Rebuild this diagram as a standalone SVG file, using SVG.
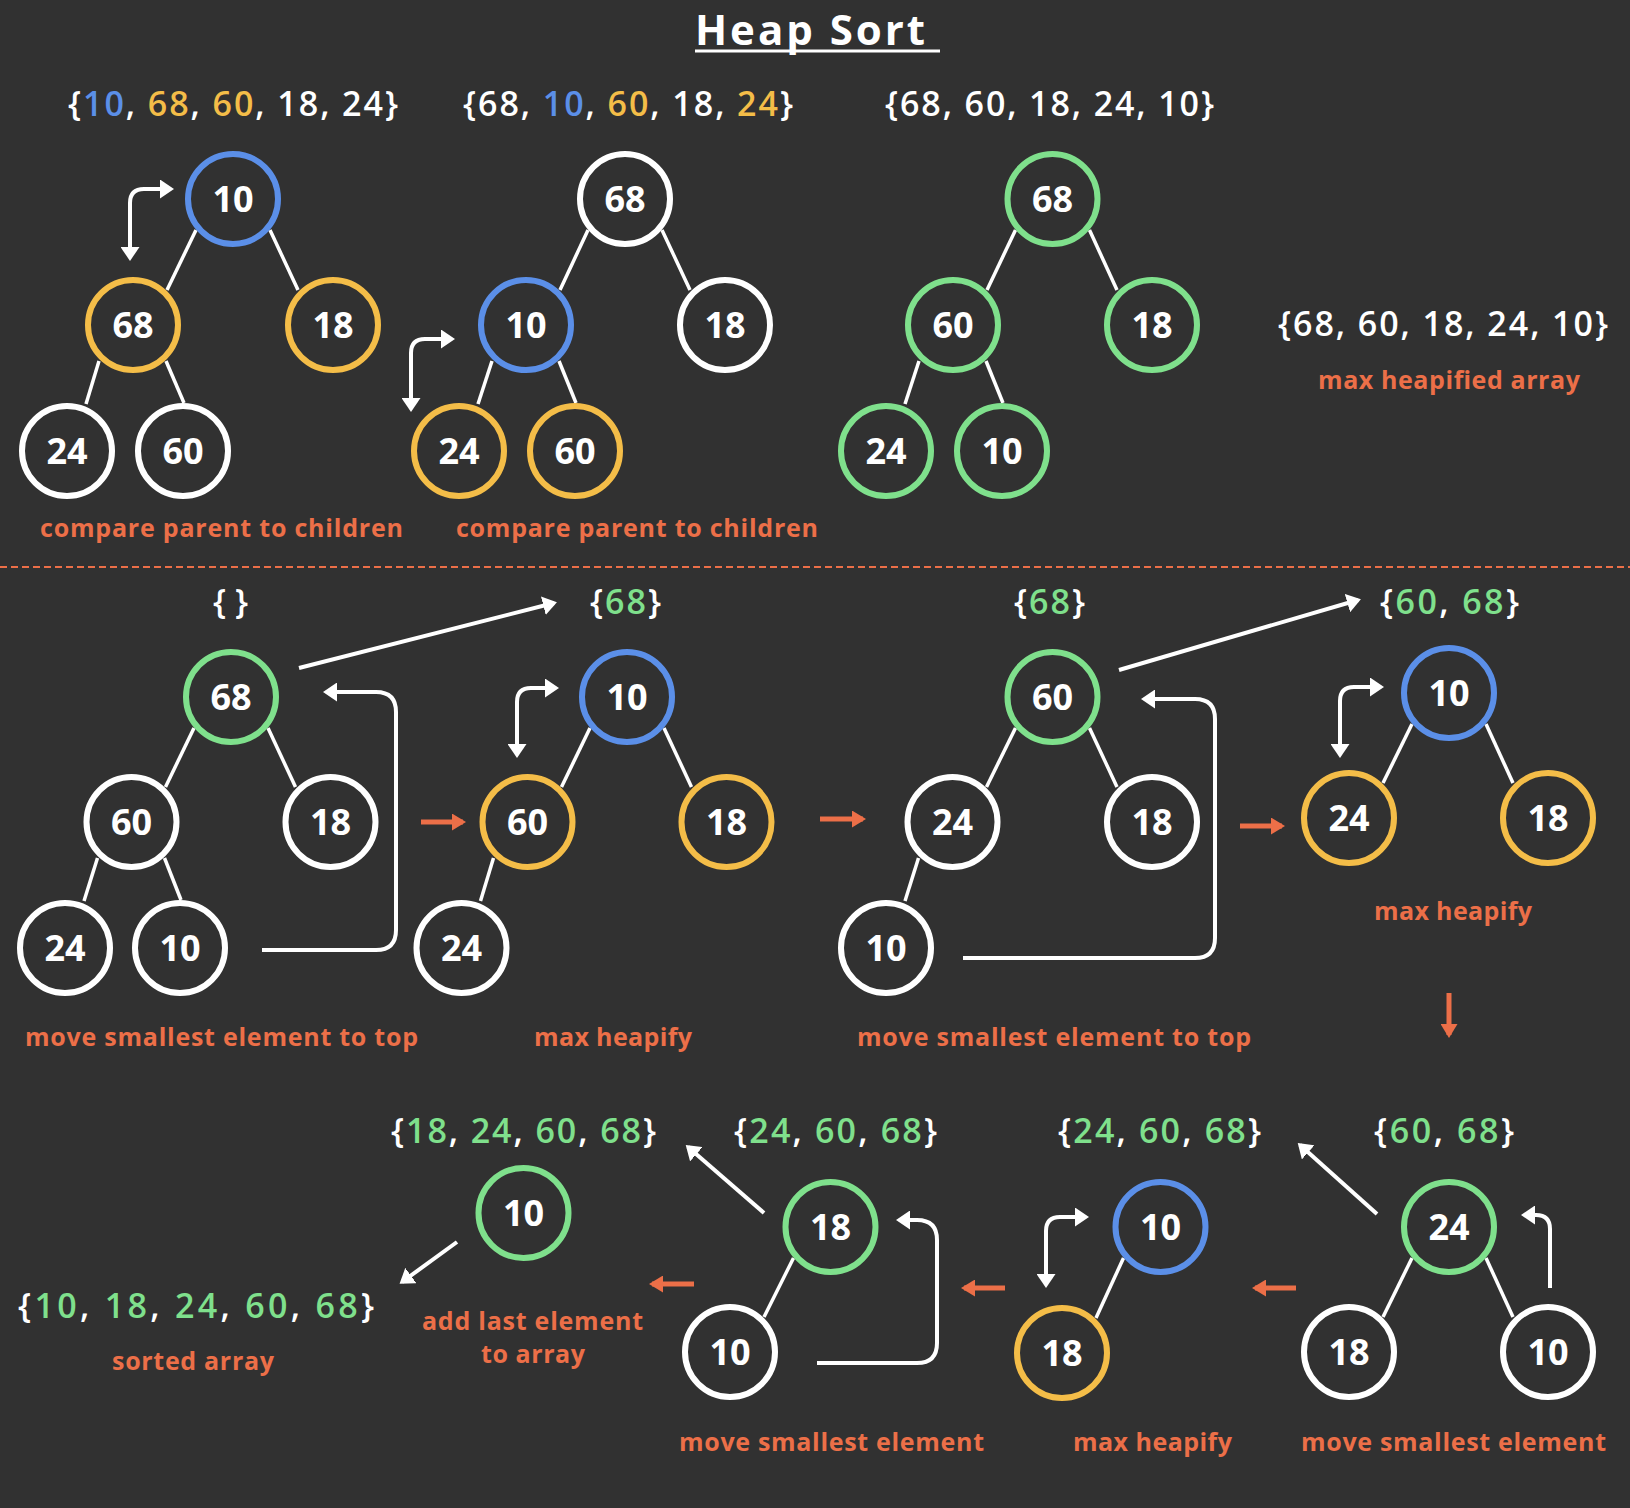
<svg xmlns="http://www.w3.org/2000/svg" width="1630" height="1508" viewBox="0 0 1630 1508">
<style>
text{font-family:"Open Sans","Noto Sans","Liberation Sans",sans-serif;}
.num{font-size:36px;font-weight:700;fill:#fff;text-anchor:middle;}
.arr{font-size:34px;font-weight:600;fill:#fff;}
.lbl{font-size:25px;font-weight:700;fill:#ec6f48;}
.ttl{font-size:42px;font-weight:700;fill:#fff;}
.bl{fill:#5b8fe8;}
.yl{fill:#f4bd48;}
.gr{fill:#7fe08c;}
circle{fill:#313131;stroke-width:6;}
.cw{stroke:#fff;}
.cb{stroke:#5b8fe8;}
.cy{stroke:#f4bd48;}
.cg{stroke:#7fe08c;}
.edge line{stroke:#fff;stroke-width:3.5;}
.wc{fill:none;stroke:#fff;stroke-width:4;marker-end:url(#wh);}
.sw{fill:none;stroke:#fff;stroke-width:4;marker-end:url(#wh);marker-start:url(#wh);}
.oa{fill:none;stroke:#ec6f48;stroke-width:5;marker-end:url(#oh);}
</style>
<defs>
<marker id="wh" viewBox="0 0 14 19" refX="11" refY="9.5" markerWidth="14" markerHeight="19" markerUnits="userSpaceOnUse" orient="auto-start-reverse">
<path d="M0,0 L14,9.5 L0,19 z" fill="#fff"/>
</marker>
<marker id="oh" viewBox="0 0 14 17" refX="11" refY="8.5" markerWidth="14" markerHeight="17" markerUnits="userSpaceOnUse" orient="auto">
<path d="M0,0 L14,8.5 L0,17 z" fill="#ec6f48"/>
</marker>
</defs>
<rect width="1630" height="1508" fill="#313131"/>

<g id="title">
<text class="ttl" x="695" y="45" textLength="230" lengthAdjust="spacing">Heap Sort</text>
<line x1="695" y1="51" x2="940" y2="51" stroke="#fff" stroke-width="3"/>
</g>

<g id="arrays">
<text class="arr" x="68" y="116" textLength="330" lengthAdjust="spacing">{<tspan class="bl">10</tspan>, <tspan class="yl">68</tspan>, <tspan class="yl">60</tspan>, 18, 24}</text>
<text class="arr" x="463" y="116" textLength="330" lengthAdjust="spacing">{68, <tspan class="bl">10</tspan>, <tspan class="yl">60</tspan>, 18, <tspan class="yl">24</tspan>}</text>
<text class="arr" x="885" y="116" textLength="329" lengthAdjust="spacing">{68, 60, 18, 24, 10}</text>
<text class="arr" x="1278" y="336" textLength="330" lengthAdjust="spacing">{68, 60, 18, 24, 10}</text>
<text class="arr" x="213" y="614" textLength="35" lengthAdjust="spacing">{ }</text>
<text class="arr" x="590" y="614" textLength="71" lengthAdjust="spacing">{<tspan class="gr">68</tspan>}</text>
<text class="arr" x="1014" y="614" textLength="71" lengthAdjust="spacing">{<tspan class="gr">68</tspan>}</text>
<text class="arr" x="1380" y="614" textLength="139" lengthAdjust="spacing">{<tspan class="gr">60</tspan>, <tspan class="gr">68</tspan>}</text>
<text class="arr" x="391" y="1143" textLength="265" lengthAdjust="spacing">{<tspan class="gr">18</tspan>, <tspan class="gr">24</tspan>, <tspan class="gr">60</tspan>, <tspan class="gr">68</tspan>}</text>
<text class="arr" x="734" y="1143" textLength="203" lengthAdjust="spacing">{<tspan class="gr">24</tspan>, <tspan class="gr">60</tspan>, <tspan class="gr">68</tspan>}</text>
<text class="arr" x="1058" y="1143" textLength="203" lengthAdjust="spacing">{<tspan class="gr">24</tspan>, <tspan class="gr">60</tspan>, <tspan class="gr">68</tspan>}</text>
<text class="arr" x="1374" y="1143" textLength="140" lengthAdjust="spacing">{<tspan class="gr">60</tspan>, <tspan class="gr">68</tspan>}</text>
<text class="arr" x="18" y="1318" textLength="356" lengthAdjust="spacing">{<tspan class="gr">10</tspan>, <tspan class="gr">18</tspan>, <tspan class="gr">24</tspan>, <tspan class="gr">60</tspan>, <tspan class="gr">68</tspan>}</text>
</g>

<g id="labels">
<text class="lbl" x="40" y="537" textLength="363" lengthAdjust="spacing">compare parent to children</text>
<text class="lbl" x="456" y="537" textLength="362" lengthAdjust="spacing">compare parent to children</text>
<text class="lbl" x="1318" y="389" textLength="262" lengthAdjust="spacing">max heapified array</text>
<text class="lbl" x="25" y="1046" textLength="393" lengthAdjust="spacing">move smallest element to top</text>
<text class="lbl" x="534" y="1046" textLength="158" lengthAdjust="spacing">max heapify</text>
<text class="lbl" x="857" y="1046" textLength="394" lengthAdjust="spacing">move smallest element to top</text>
<text class="lbl" x="1374" y="920" textLength="158" lengthAdjust="spacing">max heapify</text>
<text class="lbl" x="679" y="1451" textLength="305" lengthAdjust="spacing">move smallest element</text>
<text class="lbl" x="1073" y="1451" textLength="159" lengthAdjust="spacing">max heapify</text>
<text class="lbl" x="1301" y="1451" textLength="305" lengthAdjust="spacing">move smallest element</text>
<text class="lbl" x="422" y="1330" textLength="221" lengthAdjust="spacing">add last element</text>
<text class="lbl" x="481" y="1363" textLength="104" lengthAdjust="spacing">to array</text>
<text class="lbl" x="112" y="1370" textLength="162" lengthAdjust="spacing">sorted array</text>
</g>

<line id="divider" x1="0" y1="567" x2="1630" y2="567" stroke="#ec6f48" stroke-width="2" stroke-dasharray="7 4"/>

<g id="edges" class="edge">
<line x1="196" y1="230" x2="167" y2="290"/>
<line x1="270" y1="230" x2="298" y2="290"/>
<line x1="99" y1="361" x2="86" y2="404"/>
<line x1="166" y1="361" x2="184" y2="403"/>
<line x1="588" y1="230" x2="560" y2="290"/>
<line x1="662" y1="230" x2="690" y2="290"/>
<line x1="492" y1="361" x2="478" y2="404"/>
<line x1="559" y1="361" x2="576" y2="403"/>
<line x1="1015.5" y1="230" x2="987" y2="290"/>
<line x1="1089.5" y1="230" x2="1117" y2="290"/>
<line x1="919" y1="361" x2="905" y2="404"/>
<line x1="986" y1="361" x2="1003" y2="403"/>
<line x1="194" y1="728" x2="165.5" y2="787"/>
<line x1="268" y1="728" x2="295.5" y2="787"/>
<line x1="97.5" y1="858" x2="84" y2="901"/>
<line x1="164.5" y1="858" x2="181" y2="900"/>
<line x1="590" y1="728" x2="561.5" y2="787"/>
<line x1="664" y1="728" x2="691.5" y2="787"/>
<line x1="493.5" y1="858" x2="480.5" y2="901"/>
<line x1="1015.5" y1="728" x2="986.5" y2="787"/>
<line x1="1089.5" y1="728" x2="1117" y2="787"/>
<line x1="918.5" y1="858" x2="905" y2="901"/>
<line x1="1412" y1="724" x2="1383" y2="783"/>
<line x1="1486" y1="724" x2="1513" y2="783"/>
<line x1="1412" y1="1258" x2="1383" y2="1317"/>
<line x1="1486" y1="1258" x2="1513" y2="1317"/>
<line x1="1123.5" y1="1258" x2="1096" y2="1318"/>
<line x1="793.5" y1="1258" x2="764" y2="1317"/>
</g>

<g id="connectors">
<path class="sw" d="M130,258 V203 Q130,189 144,189 H171"/>
<path class="sw" d="M411,409 V353 Q411,339 425,339 H452"/>
<path class="sw" d="M517,755 V702 Q517,688 531,688 H556"/>
<path class="sw" d="M1340,755 V701 Q1340,687 1354,687 H1381"/>
<path class="sw" d="M1046,1285 V1231 Q1046,1217 1060,1217 H1086"/>
<path class="wc" d="M299,668 L554,603"/>
<path class="wc" d="M262,950 H376 Q396,950 396,930 V712 Q396,692 376,692 H326"/>
<path class="wc" d="M1119,670 L1358,600"/>
<path class="wc" d="M963,958 H1195 Q1215,958 1215,938 V719 Q1215,699 1195,699 H1144"/>
<path class="wc" d="M1377,1214 L1300,1145"/>
<path class="wc" d="M1550,1288 V1229 Q1550,1215 1536,1215 H1524"/>
<path class="wc" d="M817,1363 H917 Q937,1363 937,1343 V1240 Q937,1220 917,1220 H899"/>
<path class="wc" d="M764,1213 L688,1147"/>
<path class="wc" d="M457,1242 L402,1282"/>
<path class="oa" d="M421,822 H463"/>
<path class="oa" d="M820,819 H863"/>
<path class="oa" d="M1240,826 H1282"/>
<path class="oa" d="M1449,993 V1035"/>
<path class="oa" d="M1296,1288 H1255"/>
<path class="oa" d="M1005,1288 H964"/>
<path class="oa" d="M694,1284 H652"/>
</g>

<g id="tree1">
<g id="t1-10"><circle class="cb" cx="233" cy="199" r="45"/><text class="num" x="233" y="212">10</text></g>
<g id="t1-68"><circle class="cy" cx="133" cy="325" r="45"/><text class="num" x="133" y="338">68</text></g>
<g id="t1-18"><circle class="cy" cx="333" cy="325" r="45"/><text class="num" x="333" y="338">18</text></g>
<g id="t1-24"><circle class="cw" cx="67" cy="451" r="45"/><text class="num" x="67" y="464">24</text></g>
<g id="t1-60"><circle class="cw" cx="183" cy="451" r="45"/><text class="num" x="183" y="464">60</text></g>
</g>
<g id="tree2">
<g id="t2-68"><circle class="cw" cx="625" cy="199" r="45"/><text class="num" x="625" y="212">68</text></g>
<g id="t2-10"><circle class="cb" cx="526" cy="325" r="45"/><text class="num" x="526" y="338">10</text></g>
<g id="t2-18"><circle class="cw" cx="725" cy="325" r="45"/><text class="num" x="725" y="338">18</text></g>
<g id="t2-24"><circle class="cy" cx="459" cy="451" r="45"/><text class="num" x="459" y="464">24</text></g>
<g id="t2-60"><circle class="cy" cx="575" cy="451" r="45"/><text class="num" x="575" y="464">60</text></g>
</g>
<g id="tree3">
<g id="t3-68"><circle class="cg" cx="1052.5" cy="199" r="45"/><text class="num" x="1052.5" y="212">68</text></g>
<g id="t3-60"><circle class="cg" cx="953" cy="325" r="45"/><text class="num" x="953" y="338">60</text></g>
<g id="t3-18"><circle class="cg" cx="1152" cy="325" r="45"/><text class="num" x="1152" y="338">18</text></g>
<g id="t3-24"><circle class="cg" cx="886" cy="451" r="45"/><text class="num" x="886" y="464">24</text></g>
<g id="t3-10"><circle class="cg" cx="1002" cy="451" r="45"/><text class="num" x="1002" y="464">10</text></g>
</g>
<g id="treeA">
<g id="tA-68"><circle class="cg" cx="231" cy="697" r="45"/><text class="num" x="231" y="710">68</text></g>
<g id="tA-60"><circle class="cw" cx="131.5" cy="822" r="45"/><text class="num" x="131.5" y="835">60</text></g>
<g id="tA-18"><circle class="cw" cx="330.5" cy="822" r="45"/><text class="num" x="330.5" y="835">18</text></g>
<g id="tA-24"><circle class="cw" cx="65" cy="948" r="45"/><text class="num" x="65" y="961">24</text></g>
<g id="tA-10"><circle class="cw" cx="180" cy="948" r="45"/><text class="num" x="180" y="961">10</text></g>
</g>
<g id="treeB">
<g id="tB-10"><circle class="cb" cx="627" cy="697" r="45"/><text class="num" x="627" y="710">10</text></g>
<g id="tB-60"><circle class="cy" cx="527.5" cy="822" r="45"/><text class="num" x="527.5" y="835">60</text></g>
<g id="tB-18"><circle class="cy" cx="726.5" cy="822" r="45"/><text class="num" x="726.5" y="835">18</text></g>
<g id="tB-24"><circle class="cw" cx="461.5" cy="948" r="45"/><text class="num" x="461.5" y="961">24</text></g>
</g>
<g id="treeC">
<g id="tC-60"><circle class="cg" cx="1052.5" cy="697" r="45"/><text class="num" x="1052.5" y="710">60</text></g>
<g id="tC-24"><circle class="cw" cx="952.5" cy="822" r="45"/><text class="num" x="952.5" y="835">24</text></g>
<g id="tC-18"><circle class="cw" cx="1152" cy="822" r="45"/><text class="num" x="1152" y="835">18</text></g>
<g id="tC-10"><circle class="cw" cx="886" cy="948" r="45"/><text class="num" x="886" y="961">10</text></g>
</g>
<g id="treeD">
<g id="tD-10"><circle class="cb" cx="1449" cy="693" r="45"/><text class="num" x="1449" y="706">10</text></g>
<g id="tD-24"><circle class="cy" cx="1349" cy="818" r="45"/><text class="num" x="1349" y="831">24</text></g>
<g id="tD-18"><circle class="cy" cx="1548" cy="818" r="45"/><text class="num" x="1548" y="831">18</text></g>
</g>
<g id="treeE">
<g id="tE-24"><circle class="cg" cx="1449" cy="1227" r="45"/><text class="num" x="1449" y="1240">24</text></g>
<g id="tE-18"><circle class="cw" cx="1349" cy="1352" r="45"/><text class="num" x="1349" y="1365">18</text></g>
<g id="tE-10"><circle class="cw" cx="1548" cy="1352" r="45"/><text class="num" x="1548" y="1365">10</text></g>
</g>
<g id="treeF">
<g id="tF-10"><circle class="cb" cx="1160.5" cy="1227" r="45"/><text class="num" x="1160.5" y="1240">10</text></g>
<g id="tF-18"><circle class="cy" cx="1062" cy="1353" r="45"/><text class="num" x="1062" y="1366">18</text></g>
</g>
<g id="treeG">
<g id="tG-18"><circle class="cg" cx="830.5" cy="1227" r="45"/><text class="num" x="830.5" y="1240">18</text></g>
<g id="tG-10"><circle class="cw" cx="730" cy="1352" r="45"/><text class="num" x="730" y="1365">10</text></g>
</g>
<g id="treeH">
<g id="tH-10"><circle class="cg" cx="523.5" cy="1213" r="45"/><text class="num" x="523.5" y="1226">10</text></g>
</g>
</svg>
